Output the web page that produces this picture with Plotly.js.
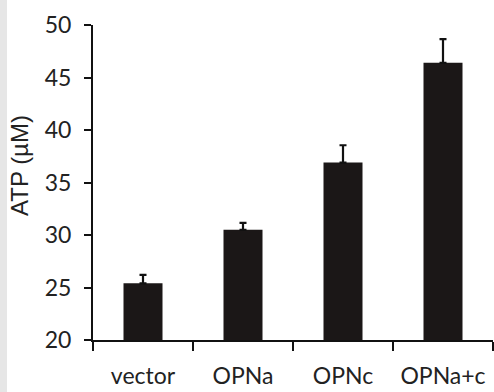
<!DOCTYPE html>
<html>
<head>
<meta charset="utf-8">
<script src="https://cdn.plot.ly/plotly-3.0.1.min.js"></script>
<style>
html,body{margin:0;padding:0;background:#fff;}
#strip{position:absolute;left:0;top:0;width:7px;height:392px;background:#e6e6e6;}
#chart{position:absolute;left:0;top:0;width:494px;height:392px;}
</style>
</head>
<body>
<div id="strip"></div>
<div id="chart"></div>
<script>
var categories = ["vector", "OPNa", "OPNc", "OPNa+c"];
var atpValues = [25.4, 30.5, 36.9, 46.4];
var atpErrors = [0.8, 0.65, 1.65, 2.25];
var yTickValues = [20, 25, 30, 35, 40, 45, 50];
var yTitle = "ATP (µM)";

var trace = {
  type: "bar",
  x: categories,
  y: atpValues,
  base: 0,
  width: 0.39,
  marker: {color: "#1b1717", line: {width: 0}},
  error_y: {type: "data", array: atpErrors, arrayminus: atpErrors.map(function(){return 0;}), visible: true, color: "#111", thickness: 2.2, width: 3.5},
  hoverinfo: "none"
};

var layout = {
  width: 494, height: 392,
  margin: {l: 93, r: 1, t: 25, b: 52},
  paper_bgcolor: "rgba(0,0,0,0)",
  plot_bgcolor: "#fff",
  showlegend: false,
  font: {family: "Lato, 'Open Sans', sans-serif", color: "#1a1a1a"},
  xaxis: {
    range: [-0.5, 3.5],
    showline: true, linecolor: "#111", linewidth: 2,
    ticks: "outside", tickson: "boundaries", ticklen: 9, tickwidth: 2, tickcolor: "#111",
    tickfont: {size: 23, family: "Lato, sans-serif", color: "#222"},
    ticklabelstandoff: 14,
    showgrid: false, zeroline: false, fixedrange: true
  },
  yaxis: {
    range: [20, 50],
    tickvals: yTickValues,
    showline: true, linecolor: "#111", linewidth: 2,
    ticks: "outside", ticklen: 7, tickwidth: 2, tickcolor: "#111",
    tickfont: {size: 23, family: "Lato, sans-serif", color: "#222"},
    ticklabelstandoff: 8,
    showgrid: false, zeroline: false, fixedrange: true
  },
  annotations: [{
    text: yTitle, textangle: -90, showarrow: false,
    xref: "paper", yref: "paper",
    x: (19 - 93) / 400, y: (340 - 166) / 315,
    xanchor: "center", yanchor: "middle",
    font: {size: 24, family: "'Liberation Sans', Arial, sans-serif", color: "#222"}
  }]
};

Plotly.newPlot("chart", [trace], layout, {displayModeBar: false, staticPlot: true});
</script>
</body>
</html>
